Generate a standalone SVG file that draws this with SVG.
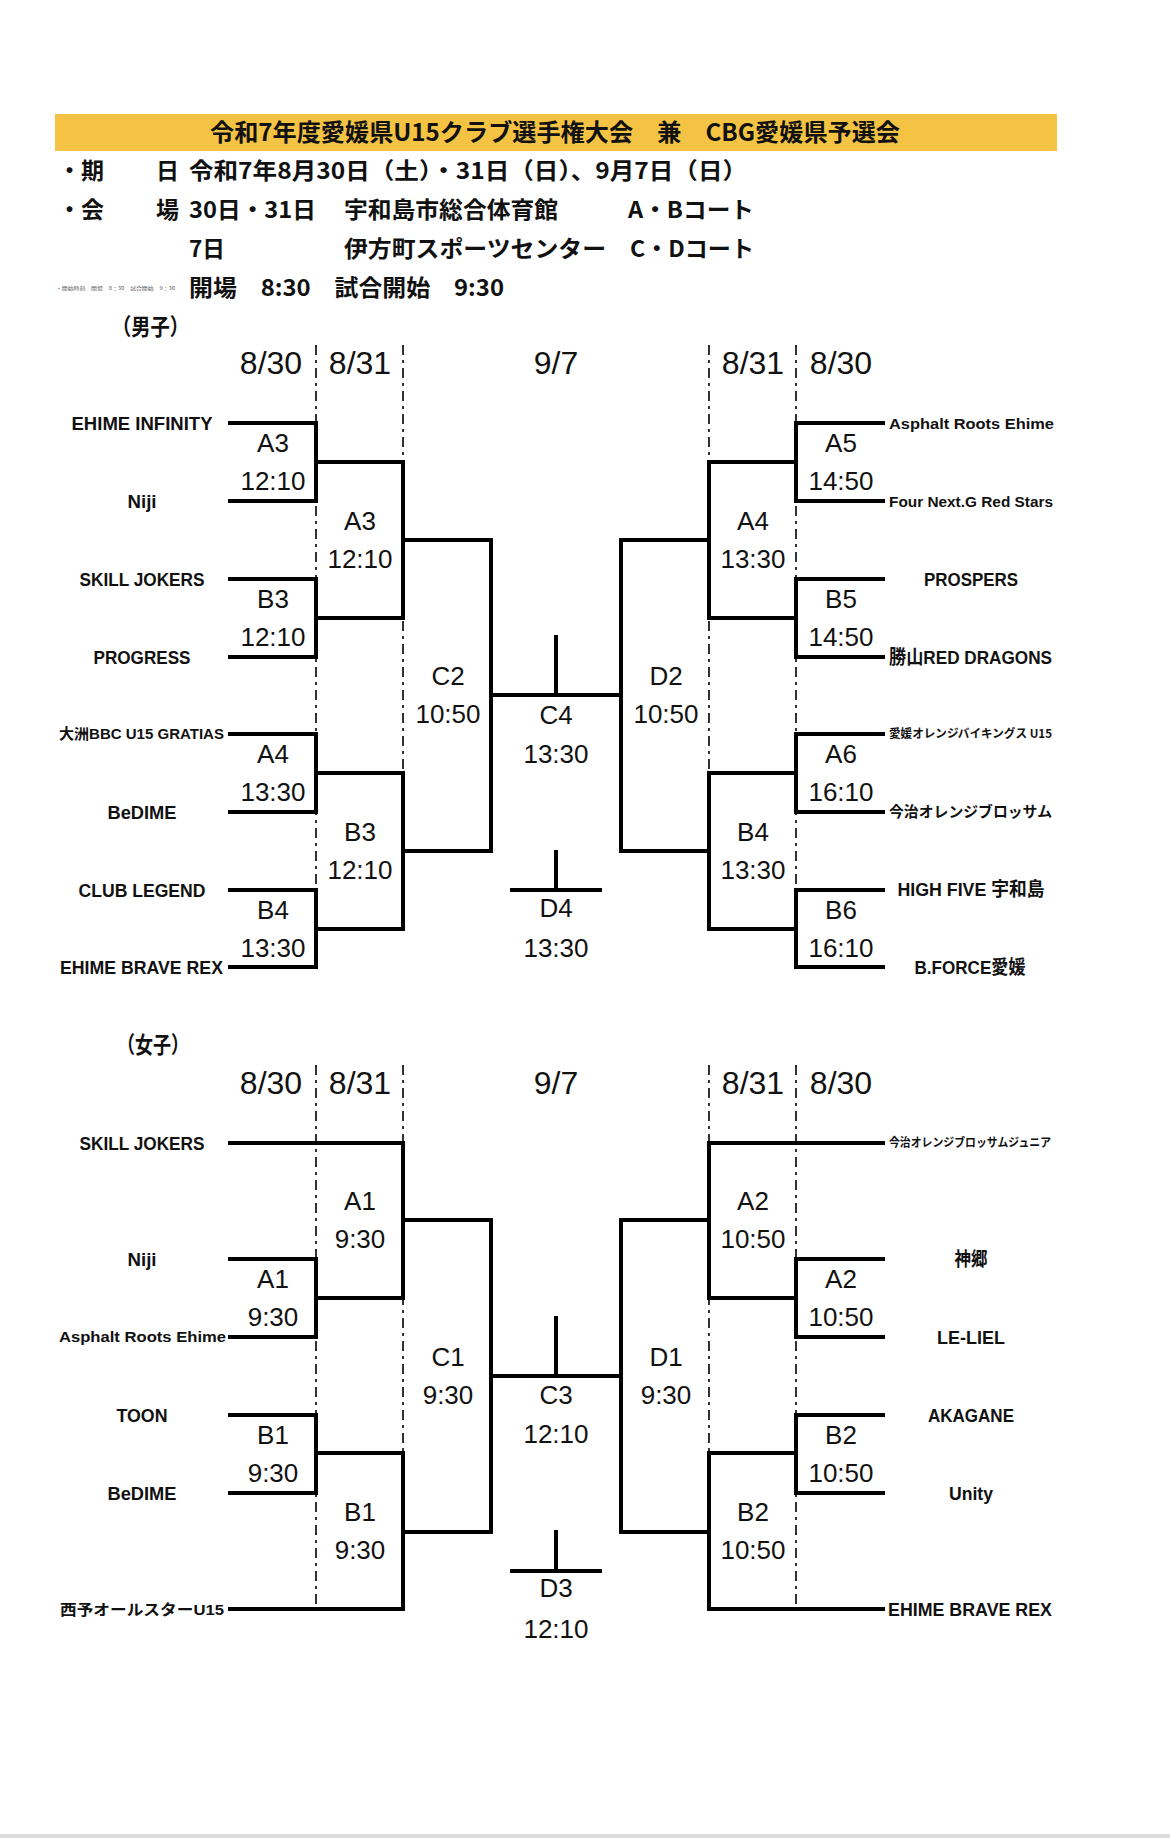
<svg xmlns="http://www.w3.org/2000/svg" width="1170" height="1838" viewBox="0 0 1170 1838">
<style>
.hd{font-family:"Noto Sans CJK JP","Liberation Sans",sans-serif;font-size:23px;font-weight:bold;fill:#111}
.tt{font-family:"Noto Sans CJK JP","Liberation Sans",sans-serif;font-size:24px;font-weight:bold;fill:#111}
.dt{font-family:"Liberation Sans","Noto Sans CJK JP",sans-serif;font-size:32px;fill:#111;text-anchor:middle}
.lb{font-family:"Liberation Sans","Noto Sans CJK JP",sans-serif;font-size:26px;fill:#111;text-anchor:middle}
.nm{font-family:"Liberation Sans","Noto Sans CJK JP",sans-serif;font-size:19px;font-weight:bold;fill:#111}
.sm{font-family:"Liberation Sans","Noto Sans CJK JP",sans-serif;font-size:15px;font-weight:bold;fill:#111}
.xs{font-family:"Noto Sans CJK JP","Liberation Sans",sans-serif;font-size:12px;font-weight:bold;fill:#111}
.mid{text-anchor:middle}
.ln{fill:none;stroke:#000;stroke-width:4;stroke-linecap:square;stroke-linejoin:miter}
.dl{fill:none;stroke:#000;stroke-width:1.6;stroke-dasharray:10 5 3 5}
</style>
<rect width="1170" height="1838" fill="#fff"/>
<rect x="0" y="1834" width="1170" height="4" fill="#dcdcdc"/>

<g id="header">
<rect x="55" y="114" width="1002" height="37" fill="#F4C343"/>
<text class="tt" x="210" y="141" textLength="690" lengthAdjust="spacingAndGlyphs">令和7年度愛媛県U15クラブ選手権大会　兼　CBG愛媛県予選会</text>
<text class="hd" x="58" y="179">・期</text>
<text class="hd" x="156" y="179">日</text>
<text class="hd" x="189" y="179" textLength="558" lengthAdjust="spacingAndGlyphs">令和7年8月30日（土）・31日（日）、9月7日（日）</text>
<text class="hd" x="58" y="218">・会</text>
<text class="hd" x="156" y="218">場</text>
<text class="hd" x="189" y="218" textLength="127" lengthAdjust="spacingAndGlyphs">30日・31日</text>
<text class="hd" x="344" y="218" textLength="214" lengthAdjust="spacingAndGlyphs">宇和島市総合体育館</text>
<text class="hd" x="628" y="218" textLength="126" lengthAdjust="spacingAndGlyphs">A・Bコート</text>
<text class="hd" x="189" y="257" textLength="36" lengthAdjust="spacingAndGlyphs">7日</text>
<text class="hd" x="344" y="257" textLength="262" lengthAdjust="spacingAndGlyphs">伊方町スポーツセンター</text>
<text class="hd" x="630" y="257" textLength="124" lengthAdjust="spacingAndGlyphs">C・Dコート</text>
<text x="56" y="290" font-family="Noto Sans CJK JP, sans-serif" font-size="5" fill="#555" textLength="119" lengthAdjust="spacingAndGlyphs">・開始時刻　開場　8：30　試合開始　9：30</text>
<text class="hd" x="189" y="296" textLength="315" lengthAdjust="spacingAndGlyphs">開場　8:30　試合開始　9:30</text>
<text class="hd" x="112" y="335" textLength="77" lengthAdjust="spacingAndGlyphs">（男子）</text>
<text class="hd" x="117" y="1053" textLength="72" lengthAdjust="spacingAndGlyphs">（女子）</text>
</g>

<g id="dates">
<text class="dt" x="271" y="374">8/30</text>
<text class="dt" x="360" y="374">8/31</text>
<text class="dt" x="556" y="374">9/7</text>
<text class="dt" x="753" y="374">8/31</text>
<text class="dt" x="841" y="374">8/30</text>
<text class="dt" x="271" y="1094">8/30</text>
<text class="dt" x="360" y="1094">8/31</text>
<text class="dt" x="556" y="1094">9/7</text>
<text class="dt" x="753" y="1094">8/31</text>
<text class="dt" x="841" y="1094">8/30</text>
</g>

<g id="connectors">
<path class="dl" d="M316 345V967M403 345V929M709 345V929M796 345V967"/>
<path class="dl" d="M316 1065V1609M403 1065V1609M709 1065V1609M796 1065V1609"/>
<path class="ln" d="M230 423H316V501H230M230 579H316V657H230M230 734H316V812H230M230 890H316V967H230M316 462H403V618H316M316 773H403V929H316M403 540H491V851H403M491 695H621M556 637V695M512 890H600M556 852V890"/>
<path class="ln" d="M883 423H796V501H883M883 579H796V657H883M883 734H796V812H883M883 890H796V967H883M796 462H709V618H796M796 773H709V929H796M709 540H621V851H709"/>
<path class="ln" d="M230 1143H403V1298H316M230 1259H316V1337H230M230 1415H316V1493H230M316 1453H403V1609H230M403 1220H491V1532H403M491 1376H621M556 1318V1376M512 1571H600M556 1532V1571"/>
<path class="ln" d="M883 1143H709V1298H796M883 1259H796V1337H883M883 1415H796V1493H883M796 1453H709V1609H883M709 1220H621V1532H709"/>
</g>

<g id="men-teams">
<text id="m-l1" class="nm mid" x="142" y="430" textLength="141" lengthAdjust="spacingAndGlyphs">EHIME INFINITY</text>
<text id="m-l2" class="nm mid" x="142" y="508" textLength="29" lengthAdjust="spacingAndGlyphs">Niji</text>
<text id="m-l3" class="nm mid" x="142" y="586" textLength="125" lengthAdjust="spacingAndGlyphs">SKILL JOKERS</text>
<text id="m-l4" class="nm mid" x="142" y="664" textLength="97" lengthAdjust="spacingAndGlyphs">PROGRESS</text>
<text id="m-l5" class="sm" x="59" y="739" textLength="165" lengthAdjust="spacingAndGlyphs">大洲BBC U15 GRATIAS</text>
<text id="m-l6" class="nm mid" x="142" y="819" textLength="69" lengthAdjust="spacingAndGlyphs">BeDIME</text>
<text id="m-l7" class="nm mid" x="142" y="897" textLength="127" lengthAdjust="spacingAndGlyphs">CLUB LEGEND</text>
<text id="m-l8" class="nm" x="60" y="974" textLength="163" lengthAdjust="spacingAndGlyphs">EHIME BRAVE REX</text>
<text id="m-r1" class="sm" x="889" y="429" textLength="165" lengthAdjust="spacingAndGlyphs">Asphalt Roots Ehime</text>
<text id="m-r2" class="sm" x="889" y="507" textLength="164" lengthAdjust="spacingAndGlyphs">Four Next.G Red Stars</text>
<text id="m-r3" class="nm mid" x="971" y="586" textLength="94" lengthAdjust="spacingAndGlyphs">PROSPERS</text>
<text id="m-r4" class="nm" x="889" y="664" textLength="163" lengthAdjust="spacingAndGlyphs">勝山RED DRAGONS</text>
<text id="m-r5" class="xs" x="889" y="738" textLength="163" lengthAdjust="spacingAndGlyphs">愛媛オレンジバイキングス U15</text>
<text id="m-r6" class="sm" x="889" y="817" textLength="163" lengthAdjust="spacingAndGlyphs">今治オレンジブロッサム</text>
<text id="m-r7" class="nm mid" x="971" y="896" textLength="147" lengthAdjust="spacingAndGlyphs">HIGH FIVE 宇和島</text>
<text id="m-r8" class="nm mid" x="970" y="974" textLength="111" lengthAdjust="spacingAndGlyphs">B.FORCE愛媛</text>
</g>

<g id="women-teams">
<text id="w-l1" class="nm mid" x="142" y="1150" textLength="125" lengthAdjust="spacingAndGlyphs">SKILL JOKERS</text>
<text id="w-l2" class="nm mid" x="142" y="1266" textLength="29" lengthAdjust="spacingAndGlyphs">Niji</text>
<text id="w-l3" class="sm" x="59" y="1342" textLength="167" lengthAdjust="spacingAndGlyphs">Asphalt Roots Ehime</text>
<text id="w-l4" class="nm mid" x="142" y="1422" textLength="51" lengthAdjust="spacingAndGlyphs">TOON</text>
<text id="w-l5" class="nm mid" x="142" y="1500" textLength="69" lengthAdjust="spacingAndGlyphs">BeDIME</text>
<text id="w-l6" class="sm" x="60" y="1615" textLength="164" lengthAdjust="spacingAndGlyphs">西予オールスターU15</text>
<text id="w-r1" class="xs" x="889" y="1147" textLength="162" lengthAdjust="spacingAndGlyphs">今治オレンジブロッサムジュニア</text>
<text id="w-r2" class="nm mid" x="971" y="1266" textLength="33" lengthAdjust="spacingAndGlyphs">神郷</text>
<text id="w-r3" class="nm mid" x="971" y="1344" textLength="68" lengthAdjust="spacingAndGlyphs">LE-LIEL</text>
<text id="w-r4" class="nm mid" x="971" y="1422" textLength="86" lengthAdjust="spacingAndGlyphs">AKAGANE</text>
<text id="w-r5" class="nm mid" x="971" y="1500" textLength="44" lengthAdjust="spacingAndGlyphs">Unity</text>
<text id="w-r6" class="nm" x="888" y="1616" textLength="164" lengthAdjust="spacingAndGlyphs">EHIME BRAVE REX</text>
</g>

<g id="men-matches">
<g id="mA3a"><text class="lb" x="273" y="452">A3</text><text class="lb" x="273" y="490">12:10</text></g>
<g id="mB3a"><text class="lb" x="273" y="608">B3</text><text class="lb" x="273" y="646">12:10</text></g>
<g id="mA4a"><text class="lb" x="273" y="763">A4</text><text class="lb" x="273" y="801">13:30</text></g>
<g id="mB4a"><text class="lb" x="273" y="919">B4</text><text class="lb" x="273" y="957">13:30</text></g>
<g id="mA3b"><text class="lb" x="360" y="530">A3</text><text class="lb" x="360" y="568">12:10</text></g>
<g id="mB3b"><text class="lb" x="360" y="841">B3</text><text class="lb" x="360" y="879">12:10</text></g>
<g id="mC2"><text class="lb" x="448" y="685">C2</text><text class="lb" x="448" y="723">10:50</text></g>
<g id="mC4"><text class="lb" x="556" y="724">C4</text><text class="lb" x="556" y="763">13:30</text></g>
<g id="mD4"><text class="lb" x="556" y="917">D4</text><text class="lb" x="556" y="957">13:30</text></g>
<g id="mD2"><text class="lb" x="666" y="685">D2</text><text class="lb" x="666" y="723">10:50</text></g>
<g id="mA4b"><text class="lb" x="753" y="530">A4</text><text class="lb" x="753" y="568">13:30</text></g>
<g id="mB4b"><text class="lb" x="753" y="841">B4</text><text class="lb" x="753" y="879">13:30</text></g>
<g id="mA5"><text class="lb" x="841" y="452">A5</text><text class="lb" x="841" y="490">14:50</text></g>
<g id="mB5"><text class="lb" x="841" y="608">B5</text><text class="lb" x="841" y="646">14:50</text></g>
<g id="mA6"><text class="lb" x="841" y="763">A6</text><text class="lb" x="841" y="801">16:10</text></g>
<g id="mB6"><text class="lb" x="841" y="919">B6</text><text class="lb" x="841" y="957">16:10</text></g>
</g>

<g id="women-matches">
<g id="wA1b"><text class="lb" x="360" y="1210">A1</text><text class="lb" x="360" y="1248">9:30</text></g>
<g id="wA1a"><text class="lb" x="273" y="1288">A1</text><text class="lb" x="273" y="1326">9:30</text></g>
<g id="wB1a"><text class="lb" x="273" y="1444">B1</text><text class="lb" x="273" y="1482">9:30</text></g>
<g id="wB1b"><text class="lb" x="360" y="1521">B1</text><text class="lb" x="360" y="1559">9:30</text></g>
<g id="wC1"><text class="lb" x="448" y="1366">C1</text><text class="lb" x="448" y="1404">9:30</text></g>
<g id="wC3"><text class="lb" x="556" y="1404">C3</text><text class="lb" x="556" y="1443">12:10</text></g>
<g id="wD3"><text class="lb" x="556" y="1597">D3</text><text class="lb" x="556" y="1638">12:10</text></g>
<g id="wD1"><text class="lb" x="666" y="1366">D1</text><text class="lb" x="666" y="1404">9:30</text></g>
<g id="wA2b"><text class="lb" x="753" y="1210">A2</text><text class="lb" x="753" y="1248">10:50</text></g>
<g id="wA2a"><text class="lb" x="841" y="1288">A2</text><text class="lb" x="841" y="1326">10:50</text></g>
<g id="wB2a"><text class="lb" x="841" y="1444">B2</text><text class="lb" x="841" y="1482">10:50</text></g>
<g id="wB2b"><text class="lb" x="753" y="1521">B2</text><text class="lb" x="753" y="1559">10:50</text></g>
</g>
</svg>
